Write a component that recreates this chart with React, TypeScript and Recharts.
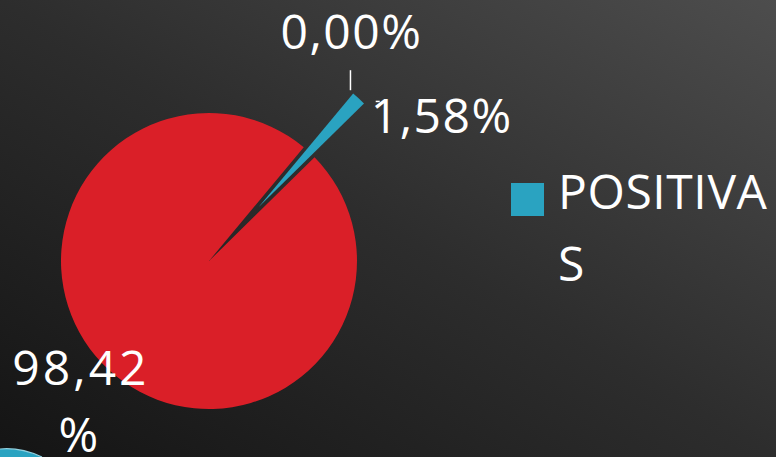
import { PieChart, Pie, Cell, Sector, Legend } from 'recharts';

// categories and shares (%) as they appear on the slide
const categories = ['INDETERMINADAS', 'POSITIVAS', 'NEGATIVAS'];
const shares = [0, 1.58, 98.42];
const colors = ['#8a8a8a', '#2aa3c1', '#da1f28'];
const exploded = [true, true, false];
const legendItems = ['POSITIVAS'];

const data = categories.map((name, i) => ({ name, value: shares[i] }));

const RADIAN = Math.PI / 180;
const EXPLODE = 73;
const FONT = '"Open Sans", "Noto Sans", sans-serif';

const fmt = (p: number) => (p * 100).toFixed(2).replace('.', ',') + '%';

const offsetFor = (index: number, midAngle: number) => {
  if (!exploded[index]) return { dx: 0, dy: 0 };
  return {
    dx: EXPLODE * Math.cos(-midAngle * RADIAN),
    dy: EXPLODE * Math.sin(-midAngle * RADIAN),
  };
};

function ExplodedSector(props: any) {
  const { cx, cy, midAngle, innerRadius, outerRadius, startAngle, endAngle, fill, index } = props;
  const idx = index ?? categories.indexOf(props.payload?.name ?? props.name);
  const { dx, dy } = offsetFor(idx, midAngle);
  return (
    <Sector
      cx={cx + dx}
      cy={cy + dy}
      innerRadius={innerRadius}
      outerRadius={outerRadius}
      startAngle={startAngle}
      endAngle={endAngle}
      fill={fill}
      stroke="none"
    />
  );
}

function renderLabel(props: any) {
  const { cx, cy, midAngle, outerRadius, percent, index } = props;
  const { dx, dy } = offsetFor(index, midAngle);
  const cos = Math.cos(-midAngle * RADIAN);
  const sin = Math.sin(-midAngle * RADIAN);
  const tipX = cx + dx + outerRadius * cos;
  const tipY = cy + dy + outerRadius * sin;
  const textStyle = { fontFamily: FONT, fontSize: 48, fill: '#ffffff', letterSpacing: 1.5 };

  if (index === 0) {
    return (
      <g key="l0">
        <line x1={tipX} y1={tipY - 1} x2={tipX} y2={tipY - 21} stroke="#ffffff" strokeWidth={1.5} />
        <text x={tipX + 1} y={tipY - 42} textAnchor="middle" style={textStyle}>
          {fmt(percent)}
        </text>
      </g>
    );
  }
  if (index === 1) {
    return (
      <g key="l1">
        <line x1={tipX + 17} y1={tipY + 3} x2={tipX + 21} y2={tipY + 3} stroke="#ffffff" strokeWidth={1.5} />
        <text x={tipX + 12} y={tipY + 35} textAnchor="start" style={textStyle}>
          {fmt(percent)}
        </text>
      </g>
    );
  }
  const r = outerRadius + 41;
  const x = cx + r * cos;
  const y = cy + r * sin;
  const txt = fmt(percent);
  return (
    <text key="l2" x={x} y={y - 15} textAnchor="middle" style={{ ...textStyle, letterSpacing: 3 }}>
      <tspan x={x}>{txt.slice(0, -1)}</tspan>
      <tspan x={x - 1} dy={67}>%</tspan>
    </text>
  );
}

function LegendContent() {
  return (
    <div style={{ fontFamily: FONT, color: '#ffffff' }}>
      {legendItems.map((name) => {
        const i = categories.indexOf(name);
        return (
          <div key={name} style={{ display: 'flex', alignItems: 'flex-start' }}>
            <div style={{ width: 33, height: 33, background: colors[i], marginTop: 28, flex: 'none' }} />
            <div style={{ marginLeft: 14, fontSize: 48, lineHeight: '72px', letterSpacing: 0.6, width: 215 }}>
              {name.slice(0, 8)}
              <br />
              {name.slice(8)}
            </div>
          </div>
        );
      })}
    </div>
  );
}

export default function App() {
  return (
    <div
      style={{
        position: 'absolute',
        left: 0,
        top: 0,
        width: 776,
        height: 457,
        overflow: 'hidden',
        background: 'linear-gradient(to top right, #141414 0%, #2d2d2d 50%, #4d4d4d 100%)',
      }}
    >
      <PieChart width={776} height={457} margin={{ top: 0, right: 0, bottom: 0, left: 0 }}>
        <Pie
          data={data}
          dataKey="value"
          nameKey="name"
          cx={209}
          cy={261}
          innerRadius={0}
          outerRadius={148}
          startAngle={50.2}
          endAngle={-309.8}
          stroke="none"
          shape={ExplodedSector}
          inactiveShape={ExplodedSector}
          label={renderLabel}
          labelLine={false}
          isAnimationActive={false}
        >
          {data.map((d, i) => (
            <Cell key={d.name} fill={colors[i]} />
          ))}
        </Pie>
        <Legend
          layout="vertical"
          verticalAlign="middle"
          align="right"
          content={LegendContent}
          wrapperStyle={{ position: 'absolute', left: 511, top: 155, width: 265 }}
        />
      </PieChart>
      <svg width={60} height={17} style={{ position: 'absolute', left: 0, top: 440 }}>
        <path d="M0 9 Q 20 7 42 17 L 0 17 Z" fill="#2aa3c1" />
        <path d="M0 9 Q 20 7 42 17" stroke="#8fd0e0" strokeWidth={1.2} fill="none" />
      </svg>
    </div>
  );
}
